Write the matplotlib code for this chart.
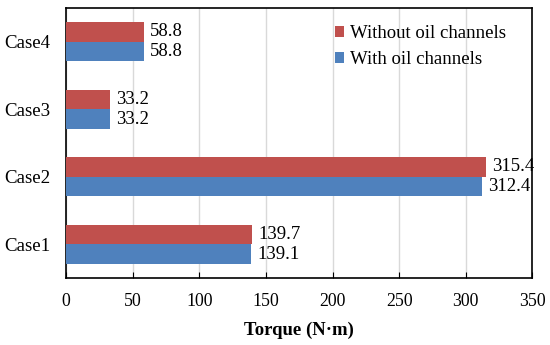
import matplotlib
matplotlib.use("Agg")
import matplotlib.pyplot as plt
import numpy as np

plt.rcParams['font.family'] = ['Liberation Serif', 'DejaVu Serif']

cases = ["Case1", "Case2", "Case3", "Case4"]
with_oil = [139.1, 312.4, 33.2, 58.8]
without_oil = [139.7, 315.4, 33.2, 58.8]
xticks = [0, 50, 100, 150, 200, 250, 300, 350]

blue = "#4F81BD"
red = "#C0504D"

fig = plt.figure(figsize=(5.5, 3.45), dpi=100)
ax = fig.add_axes([0.12, 0.194, 0.848, 0.783])

y = np.arange(len(cases))
h = 0.29
b1 = ax.barh(y - h/2, with_oil, height=h, color=blue, label="With oil channels", zorder=3)
b2 = ax.barh(y + h/2, without_oil, height=h, color=red, label="Without oil channels", zorder=3)

# value labels next to bar ends
for bars, vals in [(b1, with_oil), (b2, without_oil)]:
    for rect, v in zip(bars, vals):
        ax.text(v + 4.5, rect.get_y() + rect.get_height()/2, f"{v:.1f}",
                va="center", ha="left", fontsize=13.5)

ax.set_xlim(0, 350)
ax.set_ylim(-0.5, 3.5)
ax.set_xticks(xticks)
ax.set_yticks(y)
ax.set_yticklabels(cases)
ax.tick_params(axis='x', direction='in', length=4, labelsize=12.8, pad=10.5)
ax.tick_params(axis='y', length=0, labelsize=13.6, pad=11)
ax.grid(axis='x', color='#D9D9D9', linewidth=1, zorder=0)
for s in ax.spines.values():
    s.set_linewidth(1.2)
    s.set_color('black')

ax.set_xlabel("Torque (N·m)", fontsize=13.5, fontweight='bold', labelpad=9)

handles = [b2, b1]
ax.legend(handles, [hd.get_label() for hd in handles], loc='upper left',
          frameon=False, fontsize=13.5, handlelength=0.5, handleheight=0.5,
          handletextpad=0.3, labelspacing=0.5, borderpad=0, borderaxespad=0,
          bbox_to_anchor=(0.577, 0.937))

fig.savefig("out.png", dpi=100)
